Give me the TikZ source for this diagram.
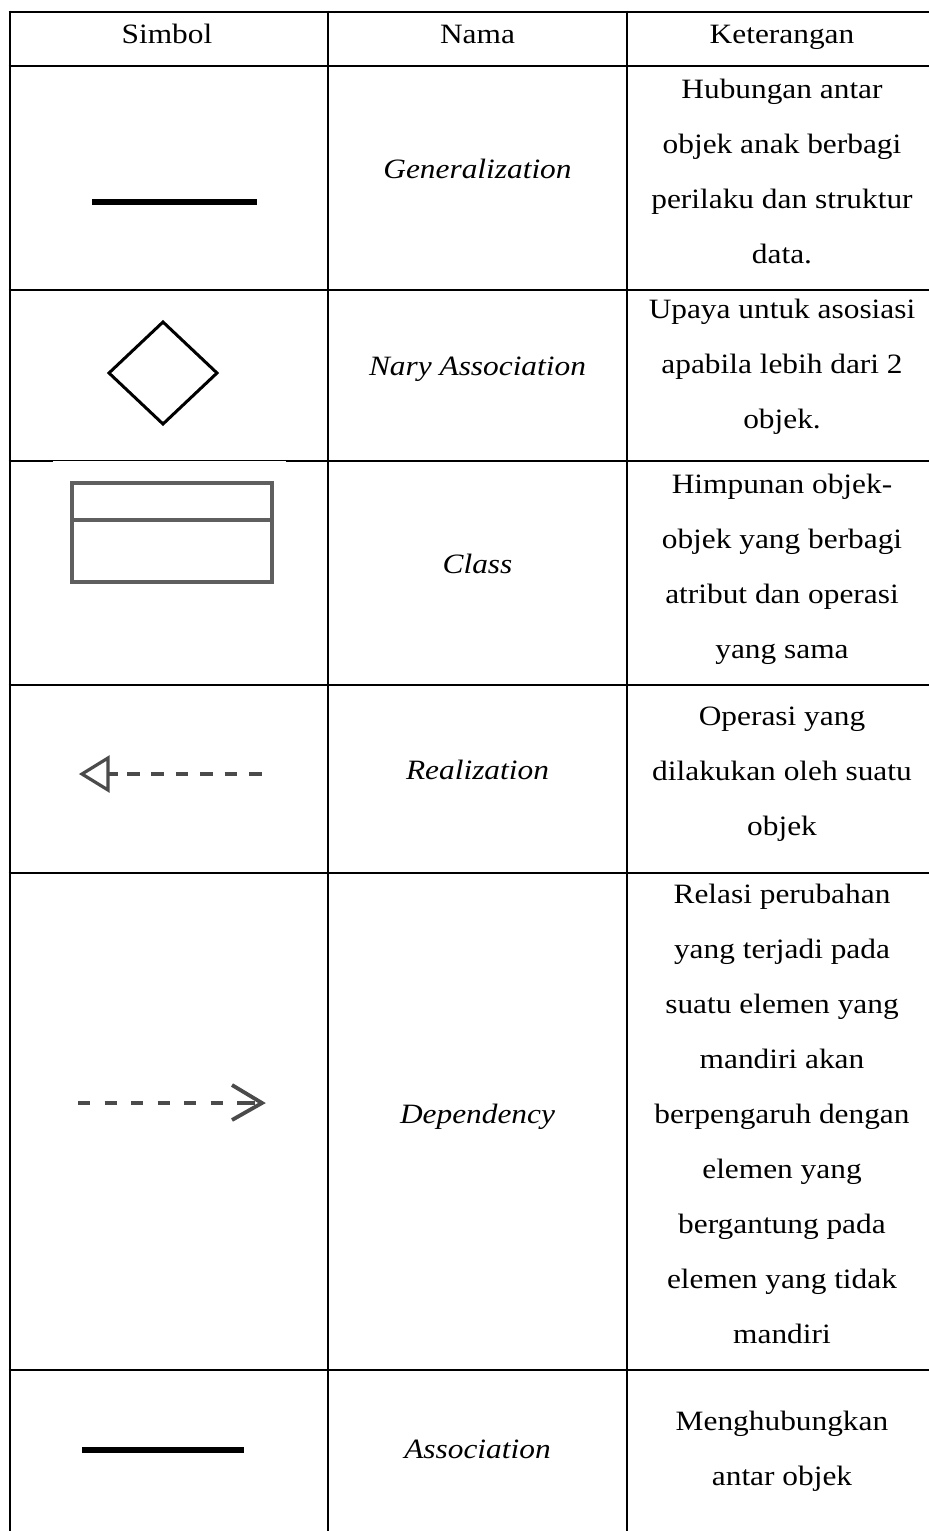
\documentclass[tikz,border=0pt]{standalone}
\usepackage{fontspec}
\setmainfont{Liberation Serif}[FakeStretch=1.12]
\definecolor{symgray}{RGB}{75,75,75}
\definecolor{classgray}{RGB}{95,95,95}
\newcommand{\desc}[1]{\setlength{\tabcolsep}{0pt}\begin{tabular}[t]{c}#1\end{tabular}}
\begin{document}
\begin{tikzpicture}[x=1pt,y=-1pt,
  rule/.style={line width=2.6pt, black},
  cell/.style={anchor=base, inner sep=0pt, font=\fontsize{28}{55}\selectfont},
  namecell/.style={cell, font=\fontsize{28}{55}\selectfont\itshape},
  sym/.style={line width=3.8pt, draw=symgray},
  solidline/.style={line width=6.3pt, black},
]
\fill[white] (0,0) rectangle (929,1531);
\useasboundingbox (0,0) rectangle (929,1531);

% table rules
\foreach \yy in {12,66,290,461,685,873,1370}
  \draw[rule] (8.7,\yy) -- (929,\yy);
\foreach \xx in {10,328,627}
  \draw[rule] (\xx,10.7) -- (\xx,1531);

% header
\node[cell] (hSimbol) at (167,43) {Simbol};
\node[cell] (hNama) at (477.5,43) {Nama};
\node[cell] (hKet) at (782,43) {Keterangan};

% Generalization
\draw[solidline] (92,202) -- (257,202);
\node[namecell] (nGen) at (477.5,178) {Generalization};
\node[cell] (dGen) at (782,98) {\desc{Hubungan antar\\objek anak berbagi\\perilaku dan struktur\\data.}};

% Nary Association
\draw[line width=3pt, line join=miter, black] (163,322) -- (217,373) -- (163,424) -- (109,373) -- cycle;
\node[namecell] (nNary) at (477.5,375) {Nary Association};
\node[cell] (dNary) at (782,318) {\desc{Upaya untuk asosiasi\\apabila lebih dari 2\\objek.}};

% Class
\fill[white] (53,461) rectangle (286,470);
\draw[line width=4pt, draw=classgray] (72,483) rectangle (272,582);
\draw[line width=4pt, draw=classgray] (72,520) -- (272,520);
\node[namecell] (nClass) at (477.5,573) {Class};
\node[cell] (dClass) at (782,493) {\desc{Himpunan objek-\\objek yang berbagi\\atribut dan operasi\\yang sama}};

% Realization
\draw[sym, line width=3.2pt, line join=miter] (108,758) -- (82,774) -- (108,790) -- cycle;
\draw[sym] (108,774) -- (118,774);
\draw[sym, dash pattern=on 12.5pt off 11.9pt] (127,774) -- (262,774);
\node[namecell] (nReal) at (477.5,779) {Realization};
\node[cell] (dReal) at (782,725) {\desc{Operasi yang\\dilakukan oleh suatu\\objek}};

% Dependency
\draw[sym, dash pattern=on 12pt off 14.5pt] (78,1103) -- (224,1103);
\draw[sym] (237,1103) -- (255,1103);
\draw[sym, line join=miter] (232,1085) -- (262,1103) -- (232,1120);
\node[namecell] (nDep) at (477.5,1123) {Dependency};
\node[cell] (dDep) at (782,903) {\desc{Relasi perubahan\\yang terjadi pada\\suatu elemen yang\\mandiri akan\\berpengaruh dengan\\elemen yang\\bergantung pada\\elemen yang tidak\\mandiri}};

% Association
\draw[solidline] (82,1450) -- (244,1450);
\node[namecell] (nAssoc) at (477.5,1458) {Association};
\node[cell] (dAssoc) at (782,1430) {\desc{Menghubungkan\\antar objek}};
\end{tikzpicture}
\end{document}
